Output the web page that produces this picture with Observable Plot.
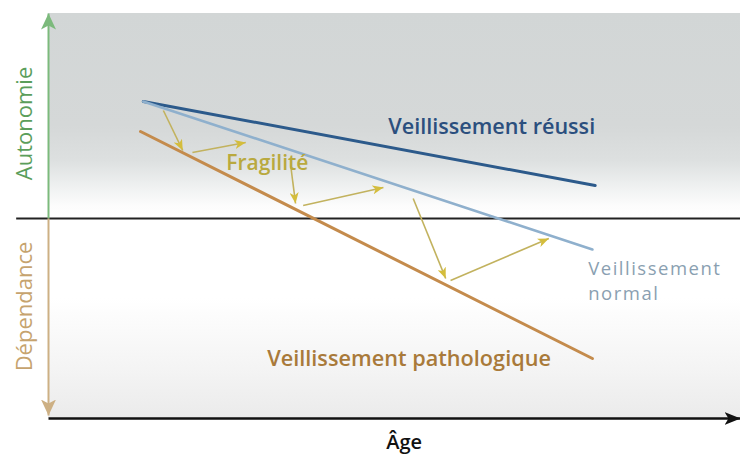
<!DOCTYPE html>
<html><head><meta charset="utf-8">
<script src="https://cdn.jsdelivr.net/npm/d3@7"></script>
<script src="https://cdn.jsdelivr.net/npm/@observablehq/plot@0.6"></script>
<style>body{margin:0;background:#fff}#chart svg{display:block}.lbl-normal text{letter-spacing:1.5px}</style>
</head><body><div id="chart"></div>
<script>
// Trajectories (x = âge, y = autonomie +/dépendance -)
const lineNames = ["Veillissement réussi", "Veillissement normal", "Veillissement pathologique"];
const lineAgeStart = [13.7, 13.7, 13.3];
const lineAutStart = [58.5, 58.5, 43.5];
const lineAgeEnd = [79.0, 78.6, 78.6];
const lineAutEnd = [16.5, -15.5, -70.0];

// Fragility arrows (zig-zag)
const arrowAge1 = [16.6, 20.8, 35.0, 36.8, 52.7, 58.1];
const arrowAut1 = [54.0, 33.0, 26.5, 6.5, 10.0, -31.0];
const arrowAge2 = [19.4, 28.5, 35.7, 48.4, 57.4, 72.3];
const arrowAut2 = [34.0, 38.0, 7.5, 15.5, -30.0, -10.0];

// Labels
const labelText = ["Veillissement réussi", "Fragilité", "Veillissement\nnormal", "Veillissement pathologique"];
const labelAge = [49.1, 25.7, 78.0, 31.6];
const labelAut = [45.8, 27.85, -30.55, -70.2];

// Zones
const zoneNames = ["Autonomie", "Dépendance"];
const zoneTop = [102.5, 0];
const zoneBottom = [0, -100];
const zoneLabelAut = [47.5, -44];
const axisLabel = "Âge";

const lines = lineNames.map((name, i) => ({name, x1: lineAgeStart[i], y1: lineAutStart[i], x2: lineAgeEnd[i], y2: lineAutEnd[i]}));
const arrows = arrowAge1.map((a, i) => ({x1: a, y1: arrowAut1[i], x2: arrowAge2[i], y2: arrowAut2[i]}));
const labels = labelText.map((t, i) => ({t, x: labelAge[i], y: labelAut[i]}));
const zones = zoneNames.map((name, i) => ({name, top: zoneTop[i], bottom: zoneBottom[i], ly: zoneLabelAut[i]}));

const lineStyle = [
  {stroke: "#2c5a8b", strokeWidth: 3},
  {stroke: "#8fb0cd", strokeWidth: 2.6},
  {stroke: "#c48b4c", strokeWidth: 3}
];
const labelStyle = [
  {fill: "#2b4f7e", fontSize: 21.6, fontWeight: 600},
  {fill: "#b9a93e", fontSize: 21, fontWeight: 600},
  {fill: "#8a9fb1", fontSize: 18.5, fontWeight: 400, lineHeight: 1.37, className: "lbl-normal"},
  {fill: "#a97a3a", fontSize: 21.7, fontWeight: 600}
];
const zoneColor = ["#5b9e5b", "#c6a36e"];
const zoneArrowColor = ["#7cba7c", "#cdb084"];
const font = "'Open Sans', sans-serif";

const marks = [
  Plot.rect([zones[0]], {x1: () => 0, x2: () => 100, y1: "bottom", y2: "top", fill: "url(#gTop)"}),
  Plot.rect([zones[1]], {x1: () => 0, x2: () => 100, y1: "bottom", y2: "top", fill: "url(#gBot)"}),
  Plot.ruleY([0], {x1: -4.6, x2: 100, stroke: "#222", strokeWidth: 2}),
  // vertical axis arrows
  Plot.link([zones[0]], {x1: () => 0, x2: () => 0, y1: () => 0, y2: "top", stroke: zoneArrowColor[0], strokeWidth: 2, className: "ax-up"}),
  Plot.link([zones[1]], {x1: () => 0, x2: () => 0, y1: "top", y2: d => d.bottom + 1.5, stroke: zoneArrowColor[1], strokeWidth: 2, className: "ax-down"}),
  // x axis
  Plot.link([axisLabel], {x1: () => 0, x2: () => 100, y1: () => -100, y2: () => -100, stroke: "#111", strokeWidth: 2.5, className: "ax-x"}),
  Plot.text([axisLabel], {x: () => 51.4, y: () => -112, text: d => d, fill: "#111", fontSize: 20, fontWeight: 600, fontFamily: font}),
  Plot.text(zones, {x: () => -3.4, y: "ly", text: "name", rotate: -90, fill: (d, i) => zoneColor[i], fontSize: 22, fontFamily: font}),
  ...lines.map((l, i) => Plot.link([l], {x1: "x1", y1: "y1", x2: "x2", y2: "y2", ...lineStyle[i], strokeLinecap: "round"})),
  Plot.link(arrows, {x1: "x1", y1: "y1", x2: "x2", y2: "y2", stroke: "#c2b25e", strokeWidth: 1.6, className: "gold"}),
  ...labels.map((l, i) => Plot.text([l], {x: "x", y: "y", text: "t", textAnchor: "start", fontFamily: font, ...labelStyle[i]}))
];

const svg = Plot.plot({
  width: 740, height: 454,
  marginLeft: 48, marginRight: 0, marginTop: 18, marginBottom: 36,
  x: {domain: [0, 100], axis: null},
  y: {domain: [-100, 100], axis: null},
  color: {type: "identity"},
  style: {background: "white", fontFamily: font, overflow: "visible"},
  marks
});

const defs = d3.select(svg).insert("defs", ":first-child");
const gTop = defs.append("linearGradient").attr("id", "gTop").attr("x1", 0).attr("y1", 0).attr("x2", 0).attr("y2", 1);
[[0, "#d2d6d6"], [0.55, "#d5d8d8"], [0.72, "#dde0e0"], [0.84, "#eef0f0"], [0.94, "#fcfcfc"], [1, "#ffffff"]]
  .forEach(([o, c]) => gTop.append("stop").attr("offset", o).attr("stop-color", c));
const gBot = defs.append("linearGradient").attr("id", "gBot").attr("x1", 0).attr("y1", 0).attr("x2", 0).attr("y2", 1);
[[0, "#ffffff"], [0.4, "#ffffff"], [0.75, "#f4f4f4"], [1, "#ebebeb"]]
  .forEach(([o, c]) => gBot.append("stop").attr("offset", o).attr("stop-color", c));
function marker(id, color, w, h, notch) {
  const m = defs.append("marker").attr("id", id).attr("viewBox", `0 0 ${w} ${h}`)
    .attr("refX", w).attr("refY", h / 2).attr("markerWidth", w).attr("markerHeight", h)
    .attr("markerUnits", "userSpaceOnUse").attr("orient", "auto");
  m.append("path").attr("d", `M0,0L${w},${h / 2}L0,${h}L${notch},${h / 2}Z`).attr("fill", color);
}
marker("mGold", "#d4bd3c", 11, 9, 3);
marker("mUp", "#7cba7c", 16, 15, 4);
marker("mDown", "#cdb084", 16, 15, 4);
marker("mX", "#111", 16, 13, 4);
d3.select(svg).selectAll(".gold path").attr("marker-end", "url(#mGold)");
d3.select(svg).selectAll(".ax-up path").attr("marker-end", "url(#mUp)");
d3.select(svg).selectAll(".ax-down path").attr("marker-end", "url(#mDown)");
d3.select(svg).selectAll(".ax-x path").attr("marker-end", "url(#mX)");
document.getElementById("chart").append(svg);
</script>
</body></html>
